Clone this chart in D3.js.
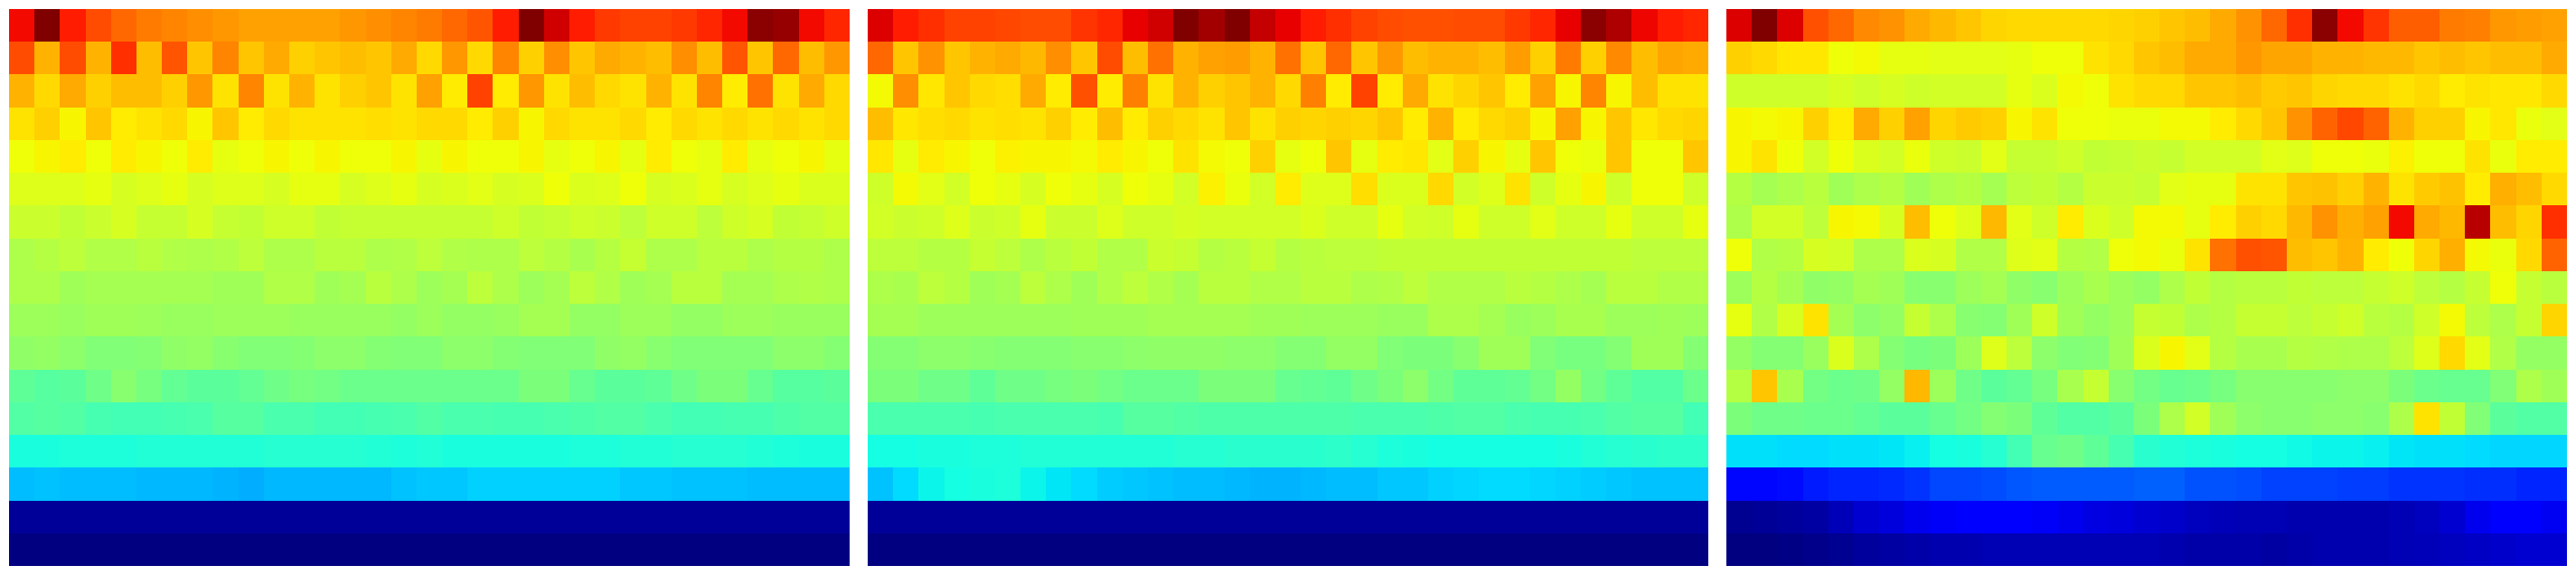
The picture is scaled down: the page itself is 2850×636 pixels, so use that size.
<!DOCTYPE html>
<html><head><meta charset="utf-8">
<script src="https://cdn.jsdelivr.net/npm/d3@7/dist/d3.min.js"></script>
<style>html,body{margin:0;padding:0;background:#fff;overflow:hidden}svg{display:block}</style>
</head><body><div id="chart"></div>
<script>
const columns = d3.range(33);
const rows = d3.range(17);

const leftPanel = [
[90,100,88,83,80,78,77,76,75,74,74,74,74,75,76,77,78, 80,82,88,100,93,88,85,84,84,85,87,90,99,98,90,87],
[83,72,83,72,86,71,82,70,77,70,73,69,70,71,70,73,68, 75,68,77,69,76,70,73,72,71,76,71,82,70,80,71,75],
[72,68,73,69,71,71,69,75,67,77,67,72,67,69,70,67,74, 66,84,66,75,67,71,68,67,72,67,77,66,79,67,73,68],
[67,69,65,70,66,67,68,65,70,66,68,67,67,67,67.5,67,68, 68,66,69,65,68,67,67,68,66,68,67,68,67,68,67,68],
[64,65,66,64,66,65,64,66,63,64,65,64,65,64,64,65,63, 65,64,64,65,63,64,65,63,66,64,63,66,63,64,65,63],
[62,62,62,63,61,62,63,61,62,62,61,63,63,61,62,63,61, 61.5,62.5,61,61.5,64,61.5,62,64,61,61.5,63,61,62,63,61.5,61.5],
[59.5,59.5,58.5,59.5,61,59,59,61,59,58.5,60,60,58.5,59,59,59,59, 59,59,60,58.5,59,60,59.5,58,60,60,58,60,61,58.5,59,60],
[56,57,58,56.5,56.5,57.5,56.5,56,56.5,58,56,56,57.5,57.5,56,56.5,58, 56.5,56,56,58,57,55.5,57,59,56,56,57.5,57.5,56,57,57,56],
[56,56,54.5,55,55,55,55,55,54.5,54.5,56.5,56.5,54.5,55,57.5,56,54, 55,58,56,54,55,58,56.5,54.5,55,57.5,57.5,55,55,56,56.5,56],
[54,54,53.5,54.5,54.5,54,53.5,53.5,54,54,54,53.5,53.5,53.5,53.5,53,54, 53,53,53.5,55,55,53,53,54,54,53,53,54,54,53.5,53.5,53.5],
[52.5,53,52,50.5,50.5,51,52.5,53,51.5,50.5,50.5,51,52,52,51,50.5,50.5, 52,52,51,50.5,50.5,50.5,52.5,53,51.5,50.5,50.5,50.5,50.5,52,52,51],
[46.5,45.5,46,48.5,51.5,49.5,47,46,46,47,48.5,49.5,49,48,48,48,48, 48,48,48,50,50,47.5,46,46,46.5,48.5,50,50,47.5,45.5,45.5,46],
[45,45.5,45,43.5,43,43,43.5,44,45.5,45.5,44,44,43,43,43.5,44,45, 44,44,43.5,43.5,44,44.5,45,45,44,43,43,43.5,43.5,44.5,45,45],
[38,38,38.5,38.5,38.5,39,39,39,39,39,39.5,39.5,39.5,39.5,39,38.5,39, 38,38,38,38,38,38.5,38.5,39,39,39.5,39.5,39.5,39,38.5,38,38],
[31,31.5,31,31,31,30.5,30.5,30.5,30,29.5,30.5,30.5,30.5,30.5,30.5,31.5,32, 32,33,33,33,33,33,33,32,32,31.5,31.5,31.5,31,31,31,31],
[2.2,2.2,2.2,2.2,2.2,2.2,2.2,2.2,2.2,2.2,2.2,2.2,2.2,2.2,2.2,2.2,2.2, 2.2,2.2,2.2,2.2,2.2,2.2,2.2,2.2,2.2,2.2,2.2,2.2,2.2,2.2,2.2,2.2],
[0,0,0,0,0,0,0,0,0,0,0,0,0,0,0,0,0, 0,0,0,0,0,0,0,0,0,0,0,0,0,0,0,0]
];

const middlePanel = [
[92,88,86,84,84,83.5,83,83,85.5,87,91,93,100,97,100,94,91, 88,86,84,83,82.5,82.5,83,83,85,87,91,99,96,90.5,88,87],
[80,70,75.5,70,72,73,71.5,76,70,83,71,79,72,74,74.5,72,79, 70,80,70,75,71,72,72,71,74.5,69,78,69,76.5,71,73.5,73],
[64.5,76,66.5,70,68,67.5,73,66,82.5,66,77.5,67,72,69,70,72,68, 77.5,66,84,66,73,67,68.5,70,66,74,65,77,65,71,67,67],
[71,66.5,67.5,68,67,67.5,67,69,66,71,66,69,68,67,70,67,69, 68.5,69,68.5,70,66,72,66,68,69,65,74,65,70,66.5,68,68.5],
[66.5,63,66,65,64,65.5,65,65,64.5,66,65,64,67,64.5,64,69,63, 64,70,63,66,66.5,62.5,69,65,63,70,64,63.5,70,64,64,70],
[60,64.5,62.5,60.5,64,63,61,64,63,61,64,63,60.5,65.5,63.5,60.5,66, 62,62,67.5,61.5,61.5,68,60.5,62,67,60,63,65,60,64,64,60],
[60.5,59.5,60,62,59.5,60,63,59.5,59.5,62,60,60,61,60.5,60.5,60.5,60.5, 61.5,60,60,63,60.5,60,63,60,60,62.5,60,60,63,60,60,63],
[58,58,57,57,59,58,56,57.5,58.5,56.5,56.5,59.5,59,57,57.5,59,57, 57.5,58,58,58.5,58.5,58.5,58.5,58.5,58.5,58.5,58.5,58.5,58.5,58,58,58],
[56,55.5,58,57,54.5,55,58,56,54.5,56.5,58,56.5,55,57.5,57.5,56.5,56.5, 57.5,57.5,56,56.5,58,56.5,56.5,56.5,57.5,57,56,55,57.5,57.5,56.5,56.5],
[55,55,54,54,54,54,54,54,54.5,54.5,54.5,55,55,55,55,54.5,54.5, 54,54,54,53.5,53.5,56,56,55,53.5,54,55.5,55.5,54,54,54.5,54],
[51,51,52,52,51.5,51,51,51,51.5,51.5,52,52.5,52.5,52.5,52,52,51, 51,53,53,50.5,50,50,51.5,54.5,54.5,50.5,49.5,49.5,51,54.5,54.5,51],
[50,50,48.5,48.5,46.5,48.5,48.5,49.5,50,49,48,48,48,50,50,50,47.5, 47,46.5,48.5,50,52,49,46.5,46.5,47,49,53,49,46.5,45,45,48],
[44,44,44,44,43.5,44,44,44,44,43.5,45.5,45.5,45,44.5,44.5,44.5,44.5, 44.5,44.5,44,44,44,44.5,45,45,44,43.5,43.5,44,45,45.5,45.5,43],
[37.5,37.5,38,38,38.5,38.5,39,39,39,39,39,39,39.5,39.5,40,40,40, 40,40.5,39.5,38.5,38,37.5,37.5,37.5,37.5,37.5,38,39,39.5,40,40.5,40.5],
[31.5,34,36.5,37.5,38,38.5,36.5,35,34,32.5,32,31.5,31,31,30.5,30,30, 30.5,31,31,32,32,33,33.5,34,34,33.5,33,32.5,32,31.5,31.5,31.5],
[2.2,2.2,2.2,2.2,2.2,2.2,2.2,2.2,2.2,2.2,2.2,2.2,2.2,2.2,2.2,2.2,2.2, 2.2,2.2,2.2,2.2,2.2,2.2,2.2,2.2,2.2,2.2,2.2,2.2,2.2,2.2,2.2,2.2],
[0,0,0,0,0,0,0,0,0,0,0,0,0,0,0,0,0, 0,0,0,0,0,0,0,0,0,0,0,0,0,0,0,0]
];

const rightPanel = [
[92,100,92,82.5,80,76.5,75.5,73,71.5,70,68.5,68,68,68,68,68.5,69, 70,71,73,75.5,80,86,99,90,85.5,81,81,78,77.5,75,74.5,74],
[69,68,66.5,66.5,64,64.5,63,63,62.5,62.5,62.5,63,64,64,67,68,70, 71,73,73,75,73.5,73.5,72,72,71.5,71.5,70,71,70,71,71,73],
[60,60,60,60,61,60,61,60,60.5,60.5,60.5,63,61.5,64.5,64,67,68, 68,70,70,71,69.5,70,68.5,68,68,67,68,66,67,66.5,66.5,68],
[65,64.5,65,69,66,73,69,74,68.5,69.5,69,65,67,64,64,63.5,63.5, 64.5,64.5,66,68,70,75.5,80.5,83.5,80.5,72,69,69,65,66.5,63.5,62.5],
[65,67,64,60.5,64,61.5,60.5,63.5,60,59.5,62.5,59,59,60,58.5,59,59.5, 59,60.5,60.5,60.5,62.5,62,64,64,63.5,65.5,64,64,67,63.5,66,66],
[57,55,56,57.5,54.5,56,57,54.5,56,57,55,58,58.5,57,59.5,59.5,59, 62.5,63,63,67,67,70,70.5,69,72,67,69.5,70.5,66,72.5,71,68],
[56,60.5,60.5,58,65,64.5,61,71,64,62,71.5,62.5,60,66,61.5,60,64.5, 64.5,63,66,69,68,71.5,75.5,72.5,74,90,73,71.5,95,71,68.5,86],
[64,56.5,57,61,60.5,56,56,61.5,61,56.5,56.5,62,62.5,57,56.5,64,64.5, 63.5,67,79,82.5,82,71,70,72,66,64,68.5,72.5,64.5,63.5,68,80.5],
[54,57,55,52.5,53,55,54.5,51.5,51.5,54,55,52.5,51.5,54,55.5,54,53, 56,58.5,57,57.5,57.5,58.5,58,58,59,60,58,57,59,64,59,57.5],
[63,56.5,61,67,55,52,53,59,56,51.5,51,54.5,60,54.5,53,54,59, 58.5,56,57,59,59,58,59,60,57.5,57,60,64.5,58,56,59,68.5],
[53,51,51,53.5,61.5,56,51,49.5,50,54,62,58,52,50.5,51,54.5,61.5, 65,62.5,57,55.5,55.5,57,56.5,56,56,58,62,68,62.5,56.5,53,53],
[57,70,55.5,49,48,48.5,53,71.5,54,48.5,46,47,49.5,55.5,59,51.5,49, 47.5,48,49.5,51.5,51.5,51.5,51.5,52,52,50,48,47.5,47.5,50.5,56,54.5],
[50,48.5,48.5,48,48,47,46,46,47.5,49,51,50,46.5,45,45,46,50, 56,60.5,54.5,52,51.5,51.5,52,52,51.5,56,67,58.5,50.5,46,45,45],
[34.5,34.5,34,34,34.5,34.5,35,36,37.5,38,39.5,43,47.5,48.5,46.5,43.5,40, 39,38.5,38,37.5,37.5,37,36.5,36.5,36,35,34.5,34.5,34,33.5,33.5,33.5],
[13,13,13.5,15,16,16,16.5,17.5,19.5,19.5,20,21,21.5,21.5,21.5,21.5,22, 22,20.5,20.5,20,19,19,19,18.5,18.5,17.5,17.5,17.5,17,17,16,16],
[1.5,2,2.5,3,5,7,8,9.5,10.5,11,11,11,10.5,9.5,8.5,8,7, 6.5,5.5,5,4.5,4.5,4,4,4,4,4.5,5.5,7,9.5,11,11,10],
[0,0,0.5,1,1.5,2.5,3,3.5,4,4,4.5,4.5,4.5,4.5,4.5,4.5,4.5, 4,3.5,3.5,3.5,3,3.5,4,4,4,4.5,5,5.5,6,6.5,7,7]
];

const panels = [leftPanel, middlePanel, rightPanel];
const panelLefts = [10, 960, 1910];
const panelWidth = 930, panelHeight = 616, panelTop = 10;

// Jet colormap, channel by channel
const red = d3.scaleLinear().domain([0,35,66,89,100]).range([0,0,1,1,0.5]);
const green = d3.scaleLinear().domain([0,12.5,37.5,64,91,100]).range([0,0,1,1,0,0]);
const blue = d3.scaleLinear().domain([0,11,34,65,100]).range([0.5,1,1,0,0]);
const jet = v => d3.rgb(red(v)*255, green(v)*255, blue(v)*255).formatRgb();

const svg = d3.select("#chart").append("svg").attr("width",2850).attr("height",636);

panels.forEach((panel, p) => {
  const x = d3.scaleBand().domain(columns).range([panelLefts[p], panelLefts[p]+panelWidth]);
  const y = d3.scaleBand().domain(rows).range([panelTop, panelTop+panelHeight]);
  const cells = panel.flatMap((row, r) => row.map((v, c) => ({r, c, v})));
  svg.append("g").selectAll("rect").data(cells).join("rect")
    .attr("x", d => Math.round(x(d.c)))
    .attr("y", d => Math.round(y(d.r)))
    .attr("width", d => Math.round(x(d.c)+x.bandwidth()) - Math.round(x(d.c)))
    .attr("height", d => Math.round(y(d.r)+y.bandwidth()) - Math.round(y(d.r)))
    .attr("fill", d => jet(d.v))
    .attr("shape-rendering","crispEdges");
  panel.forEach((row,i)=>{ if(row.length!==33) console.error("panel",p,"row",i,"len",row.length); });
});
</script></body></html>
